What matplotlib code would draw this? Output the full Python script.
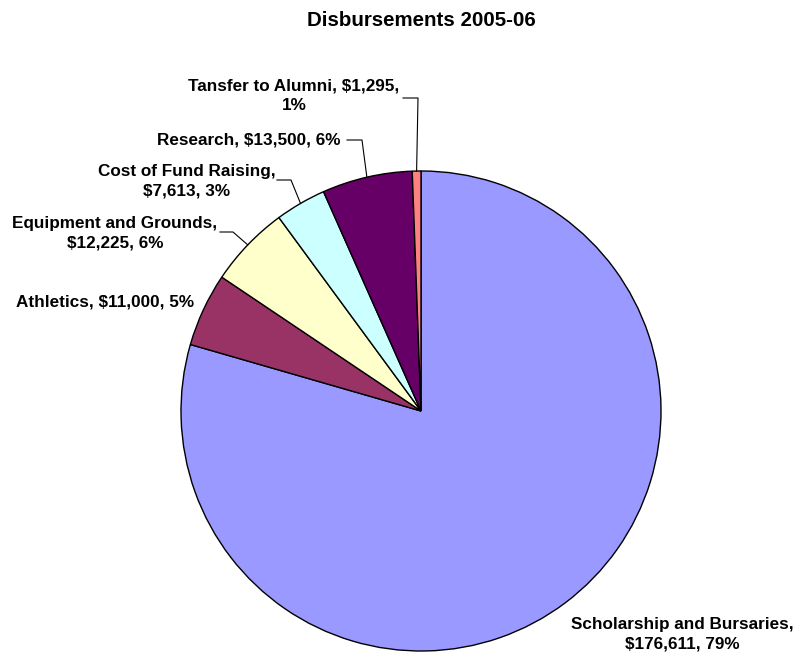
import matplotlib
matplotlib.use("Agg")
import matplotlib.pyplot as plt
import numpy as np

plt.rcParams['font.family'] = ['Liberation Sans', 'DejaVu Sans']

title = "Disbursements 2005-06"
categories = ["Scholarship and Bursaries", "Athletics", "Equipment and Grounds",
              "Cost of Fund Raising", "Research", "Tansfer to Alumni"]
values = [176611, 11000, 12225, 7613, 13500, 1295]
pct_labels = ["79%", "5%", "6%", "3%", "6%", "1%"]
colors = ["#9999FF", "#993366", "#FFFFCC", "#CCFFFF", "#660066", "#FF8080"]

W, H = 794, 658
fig = plt.figure(figsize=(W / 100, H / 100), dpi=100)
ax = fig.add_axes([0, 0, 1, 1])
ax.set_xlim(0, W)
ax.set_ylim(0, H)
ax.axis('off')

cx, cy, R = 421, H - 411, 240
wedges, _ = ax.pie(values, colors=colors, startangle=90, counterclock=False,
                   center=(cx, cy), radius=R,
                   wedgeprops=dict(edgecolor='black', linewidth=1.0))
ax.set_xlim(0, W)
ax.set_ylim(0, H)
ax.set_aspect('equal')

fs = 12.3
def lab(i, two_lines):
    v = "${:,}".format(values[i])
    if two_lines == 1:
        return f"{categories[i]},\n{v}, {pct_labels[i]}"
    if two_lines == 2:
        return f"{categories[i]}, {v},\n{pct_labels[i]}"
    return f"{categories[i]}, {v}, {pct_labels[i]}"

# label positions (pixel coords, y from top)
specs = [
    (0, 682, 634, 1),
    (1, 105, 302, 0),
    (2, 115, 233, 1),
    (3, 187, 181, 1),
    (4, 249, 140, 0),
    (5, 294, 96, 2),
]
for i, x, y, tl in specs:
    ax.text(x, H - y, lab(i, tl), ha='center', va='center', fontsize=fs,
            fontweight='bold', linespacing=1.38, multialignment='center')

# leader lines: (index, elbow_x, elbow_y, end_x)
leaders = [
    (2, 233, 232, 220),
    (3, 291, 180, 277),
    (4, 362, 140, 347),
    (5, 418, 98, 403),
]
for i, ex, ey, endx in leaders:
    w = wedges[i]
    mid = np.deg2rad((w.theta1 + w.theta2) / 2)
    px = cx + R * np.cos(mid)
    py = cy + R * np.sin(mid)
    ax.plot([px, ex, endx], [py, H - ey, H - ey], color='black', lw=0.8)

ax.text(421, H - 20, title, ha='center', va='center', fontsize=14.8, fontweight='bold')

fig.savefig("out.png", dpi=100)
